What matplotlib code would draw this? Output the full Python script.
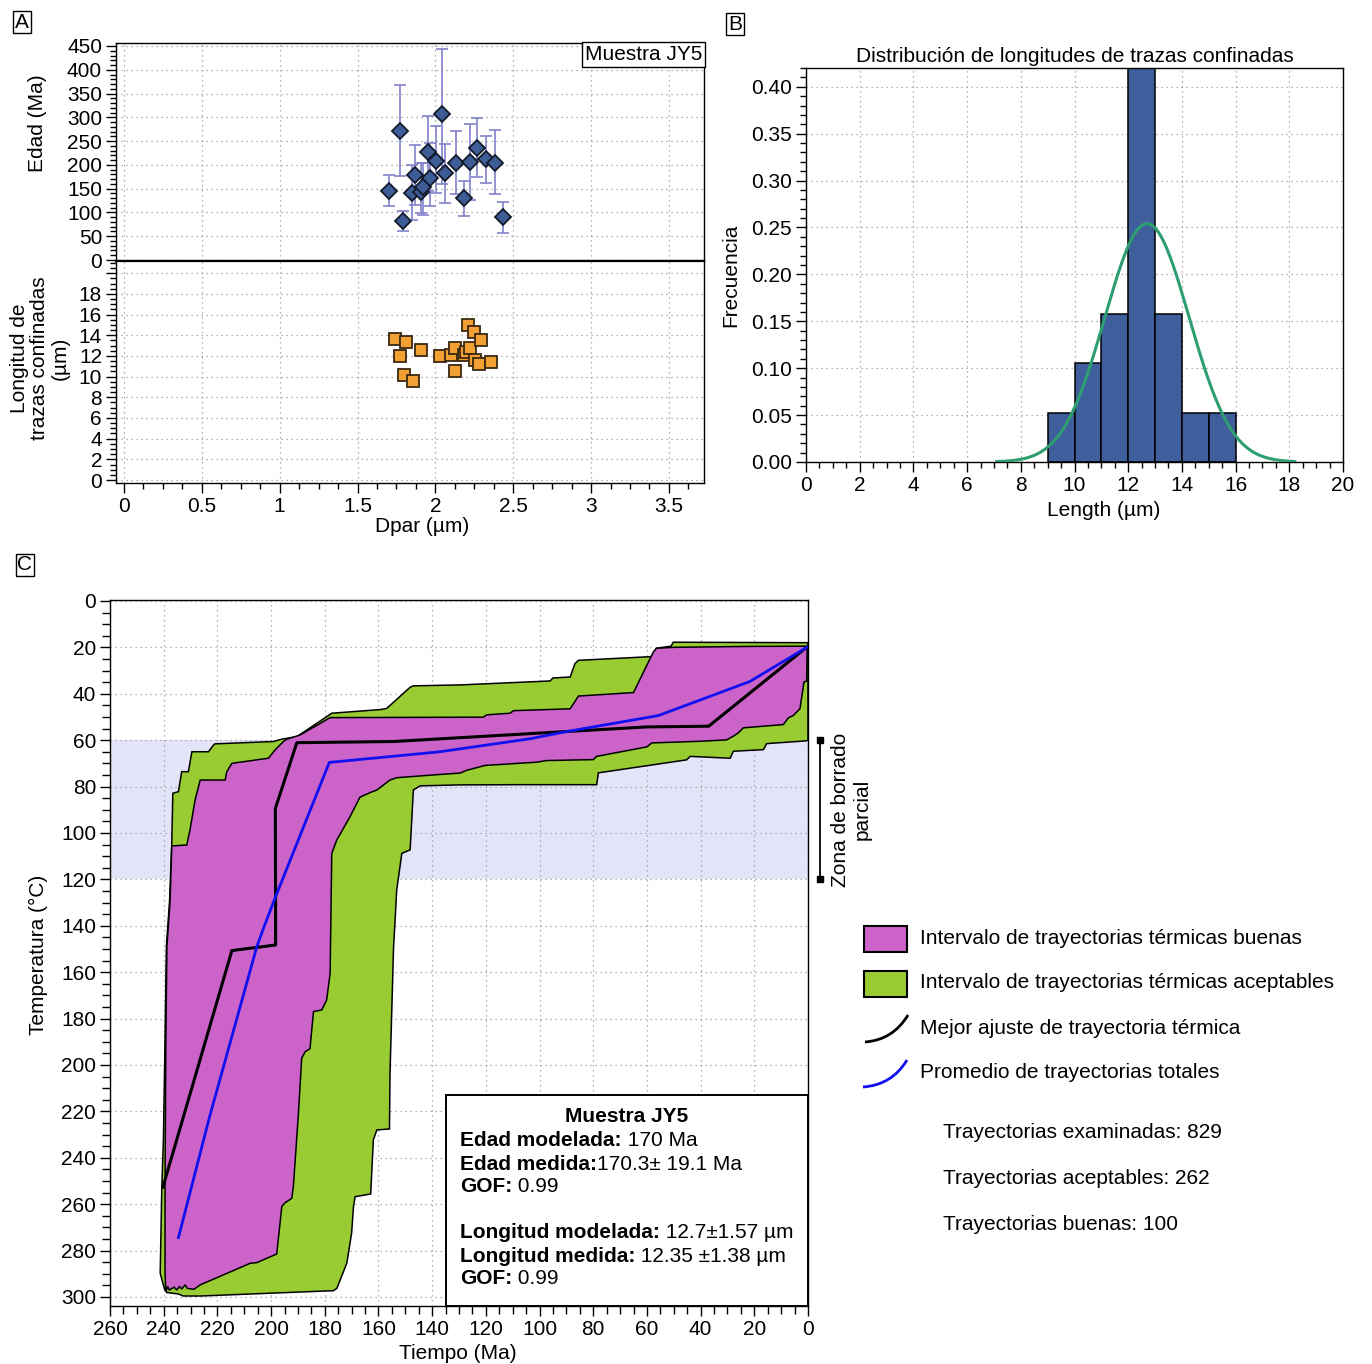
import numpy as np
import matplotlib
matplotlib.use("Agg")
import matplotlib.pyplot as plt
from matplotlib.ticker import MultipleLocator, FuncFormatter
from matplotlib.patches import Rectangle, PathPatch
from matplotlib.path import Path
from matplotlib.transforms import blended_transform_factory

plt.rcParams["font.family"] = ["Liberation Sans", "DejaVu Sans"]
plt.rcParams["font.size"] = 15
plt.rcParams["axes.linewidth"] = 1.0

W, H = 1372, 1364

# ---------------- Panel A: single-grain ages and track lengths vs Dpar
grain_dpar = [1.70, 1.77, 1.79, 1.85, 1.87, 1.91, 1.92, 1.955, 1.965, 2.005, 2.04,
              2.06, 2.13, 2.185, 2.225, 2.27, 2.325, 2.385, 2.435]
grain_age = [145, 271, 81, 141, 178, 143, 153, 227, 173, 209, 306, 182, 204, 130,
             207, 235, 212, 203, 90]
grain_age_low = [114, 176, 61, 84, 116, 98, 95, 145, 113, 140, 160, 119, 138, 93,
                 127, 174, 161, 139, 57]
grain_age_high = [179, 369, 103, 199, 241, 203, 205, 303, 246, 281, 443, 244, 272,
                  166, 286, 298, 261, 273, 121]

track_dpar = [1.74, 1.775, 1.81, 1.80, 1.855, 1.91, 2.03, 2.10, 2.125, 2.125, 2.185,
              2.195, 2.21, 2.225, 2.245, 2.255, 2.28, 2.295, 2.36]
track_length = [13.6, 12.0, 13.4, 10.2, 9.6, 12.6, 12.0, 12.1, 12.8, 10.5, 12.1,
                12.4, 15.0, 12.8, 14.3, 11.6, 11.2, 13.5, 11.4]

# ---------------- Panel B: confined track length distribution
bin_left = [9, 10, 11, 12, 13, 14, 15]
bin_counts = [1, 2, 3, 8, 3, 1, 1]
model_mean, model_sd = 12.7, 1.57
model_range = (7.1, 18.2)

# ---------------- Panel C: thermal history envelopes (time Ma, temperature C)
acc_time = [0.0, 50.2, 51.0, 56.4, 58.3, 85.5, 86.8, 88.6, 95.0, 96.1, 129.6, 147.0,
            148.2, 156.9, 159.0, 177.4, 179.3, 190.4, 196.1, 199.1, 220.9, 221.5,
            223.3, 229.5, 230.8, 233.3, 234.5, 236.6, 237.0, 237.8, 239.0, 239.5,
            240.1, 240.7, 241.3, 239.7, 238.8, 234.6, 232.7, 226.4, 176.8, 175.5,
            171.8, 170.0, 169.3, 168.7, 162.9, 161.9, 160.6, 155.9, 155.7, 155.0,
            154.4, 153.8, 153.2, 151.3, 148.2, 147.0, 144.5, 129.6, 108.5, 78.7,
            78.1, 45.2, 43.9, 29.0, 27.8, 16.6, 15.4, 0.5, 0.0]
acc_temp = [18.0, 17.8, 19.5, 20.4, 24.0, 25.6, 27.0, 32.8, 33.2, 34.5, 36.2, 36.6,
            37.2, 46.3, 46.8, 48.4, 49.9, 58.5, 59.6, 60.6, 61.6, 62.2,
            65.0, 65.0, 73.6, 73.6, 82.2, 82.9, 105.2, 129.0, 149.0, 189.0,
            232.0, 252.5, 289.8, 296.6, 298.1, 298.7, 299.6, 299.6, 297.3, 296.3,
            285.5, 272.5, 261.0, 256.8, 255.6, 232.3, 228.0, 227.6, 203.6, 175.0,
            150.0, 137.5, 124.6, 108.8, 107.3, 81.5, 79.7, 79.3, 79.2, 79.2,
            74.1, 68.5, 67.0, 67.8, 64.8, 64.1, 61.5, 60.3, 60.0]

good_time = [0.3, 21.6, 50.0, 56.4, 57.6, 65.0, 85.5, 88.6, 109.7, 111.0, 119.7,
             120.9, 178.0, 189.2, 194.2, 195.4, 198.5, 201.0, 214.6, 216.5, 217.1,
             226.4, 228.3, 230.2, 231.4, 237.0, 237.6, 238.8, 239.2, 239.5, 239.5,
             239.2, 238.5, 237.9, 236.1, 235.1, 234.1, 233.3, 232.0, 231.2, 228.7,
             226.4, 207.8, 205.3, 197.9, 196.0, 194.9, 192.3, 191.7, 189.8, 188.6,
             187.3, 185.5, 184.2, 181.1, 179.3, 178.0, 177.4, 175.5, 170.6, 166.9,
             163.1, 160.6, 155.7, 153.2, 138.3, 129.6, 127.1, 120.3, 101.0, 97.3,
             80.0, 78.7, 60.0, 58.2, 40.2, 30.3, 27.8, 26.0, 24.1, 9.2, 7.3, 5.5,
             3.0, 1.5, 0.5]
good_temp = [19.5, 19.6, 20.0, 20.4, 22.0, 39.5, 41.0, 46.5, 47.3, 48.4, 49.1,
             50.1, 50.3, 57.8, 59.6, 60.6, 64.2, 67.8, 70.0, 73.6, 77.2,
             77.2, 85.8, 98.7, 105.2, 105.6, 129.0, 149.0, 189.0, 252.5, 289.8,
             297.7, 295.5, 297.0, 295.8, 297.0, 295.5, 296.6, 294.8, 296.3, 296.7,
             294.8, 285.5, 285.2, 281.5, 261.0, 259.5, 257.5, 252.5, 220.8, 197.1,
             194.3, 193.0, 177.0, 176.3, 172.0, 160.5, 108.8, 103.0, 93.0, 84.6,
             82.6, 81.5, 77.2, 76.2, 74.9, 74.2, 73.0, 70.9, 69.5, 68.8,
             68.4, 67.0, 62.9, 61.2, 60.5, 59.9, 58.3, 56.9, 54.7, 53.3, 50.4, 49.4,
             46.5, 35.0, 34.5]

best_time = [240.3, 214.6, 198.3, 198.4, 190.4, 154.4, 88.6, 60.0, 37.0, 0.0]
best_temp = [252.7, 150.7, 148.3, 89.4, 61.1, 60.6, 56.2, 54.3, 54.0, 19.5]

mean_time = [234.5, 222.9, 205.3, 202.8, 198.5, 178.3, 137.0, 103.5, 89.9, 55.7, 21.6, 0.0]
mean_temp = [274.4, 222.3, 149.0, 141.0, 128.0, 69.6, 65.0, 59.4, 56.3, 49.4, 34.7, 19.7]

paz_range = (60, 120)

# ---------------- styling
C_GOOD = "#CC63C9"
C_ACC = "#99CC33"
C_PAZ = "#E4E4F8"
GRID = dict(color="#9a9a9a", linestyle=(0, (1, 3)), linewidth=0.9)

fig = plt.figure(figsize=(W / 100, H / 100), dpi=100)


def px_axes(left, top, right, bottom, **kw):
    return fig.add_axes([left / W, 1 - bottom / H, (right - left) / W, (bottom - top) / H], **kw)


def style_ticks(ax, major=7, minor=4):
    ax.tick_params(which="both", direction="out", width=1, labelsize=15, pad=3)
    ax.tick_params(which="major", length=major)
    ax.tick_params(which="minor", length=minor)


fmt_g = FuncFormatter(lambda v, p: f"{v:g}")

# ---------------- Panel A
axA1 = px_axes(116, 43, 704, 261)
axA2 = px_axes(116, 261, 704, 483, sharex=axA1)
for ax in (axA1, axA2):
    ax.set_xlim(-0.051, 3.725)
    ax.xaxis.set_major_locator(MultipleLocator(0.5))
    ax.xaxis.set_minor_locator(MultipleLocator(0.125))
    ax.xaxis.set_major_formatter(fmt_g)
    ax.grid(True, which="major", **GRID)
    ax.set_axisbelow(True)
    style_ticks(ax)
axA1.tick_params(axis="x", which="both", bottom=False, labelbottom=False)
axA1.set_ylim(-2.1, 456.3)
axA1.yaxis.set_major_locator(MultipleLocator(50))
axA1.yaxis.set_minor_locator(MultipleLocator(10))
axA2.set_ylim(-0.29, 21.19)
axA2.yaxis.set_major_locator(MultipleLocator(2))
axA2.yaxis.set_minor_locator(MultipleLocator(0.5))
axA2.yaxis.set_major_formatter(FuncFormatter(lambda v, p: "" if v > 19 else f"{v:g}"))
axA1.spines["bottom"].set_linewidth(1.6)
axA2.spines["top"].set_linewidth(1.6)

age = np.array(grain_age)
yerr = [age - np.array(grain_age_low), np.array(grain_age_high) - age]
axA1.errorbar(grain_dpar, grain_age, yerr=yerr, fmt="none", ecolor="#8282CC",
              elinewidth=1.2, capsize=4, capthick=1.2, zorder=2)
axA1.plot(grain_dpar, grain_age, linestyle="none", marker="D", markersize=8.5,
          markerfacecolor="#3E5C96", markeredgecolor="#111a2a", markeredgewidth=1.3, zorder=3)
axA2.plot(track_dpar, track_length, linestyle="none", marker="s", markersize=8,
          markerfacecolor="#F2A033", markeredgecolor="#3a2810", markeredgewidth=1.3, zorder=3)

axA1.text(0.997, 0.992, "Muestra JY5", transform=axA1.transAxes, ha="right", va="top",
          fontsize=15, bbox=dict(boxstyle="square,pad=0.15", fc="white", ec="black", lw=1))
axA1.set_ylabel("Edad (Ma)", fontsize=15, va="center", ha="center")
axA1.yaxis.set_label_coords(-0.134, 0.633)
axA2.set_ylabel("Longitud de\ntrazas confinadas\n(µm)", fontsize=15, va="center",
                ha="center", multialignment="center", linespacing=1.1)
axA2.yaxis.set_label_coords(-0.13, 0.56)
axA2.set_xlabel("Dpar (µm)", fontsize=15)
axA2.xaxis.set_label_coords(0.52, -0.155)

# ---------------- Panel B
axB = px_axes(806, 68, 1343, 462)
freq = np.array(bin_counts) / np.sum(bin_counts)
axB.bar(bin_left, freq, width=1, align="edge", color="#3F5E9C", edgecolor="black",
        linewidth=1.1, zorder=2)
xs = np.linspace(model_range[0], model_range[1], 300)
pdf = np.exp(-(xs - model_mean) ** 2 / (2 * model_sd ** 2)) / (model_sd * np.sqrt(2 * np.pi))
axB.plot(xs, pdf, color="#2E9E70", lw=2.2, zorder=3)
axB.set_xlim(0, 20)
axB.set_ylim(0, 0.42)
axB.xaxis.set_major_locator(MultipleLocator(2))
axB.xaxis.set_minor_locator(MultipleLocator(0.5))
axB.yaxis.set_major_locator(MultipleLocator(0.05))
axB.yaxis.set_minor_locator(MultipleLocator(0.01))
axB.yaxis.set_major_formatter(FuncFormatter(lambda v, p: f"{v:.2f}"))
axB.grid(True, which="major", **GRID)
axB.set_axisbelow(True)
style_ticks(axB)
axB.set_title("Distribución de longitudes de trazas confinadas", fontsize=15, pad=4)
axB.set_ylabel("Frecuencia", fontsize=15, va="center", ha="center")
axB.yaxis.set_label_coords(-0.14, 0.475)
axB.set_xlabel("Length (µm)", fontsize=15)
axB.xaxis.set_label_coords(0.555, -0.1)

# ---------------- Panel C
axC = px_axes(110, 600, 808, 1306)
axC.set_xlim(260, 0)
axC.set_ylim(303.9, -0.4)
axC.axhspan(paz_range[0], paz_range[1], color=C_PAZ, zorder=0.3, lw=0)
axC.fill(acc_time, acc_temp, facecolor=C_ACC, edgecolor="black", lw=1.1, zorder=2)
axC.fill(good_time, good_temp, facecolor=C_GOOD, edgecolor="black", lw=1.1, zorder=3)
axC.plot(best_time, best_temp, color="black", lw=2.2, zorder=4)
axC.plot(mean_time, mean_temp, color="#1010F0", lw=2.0, zorder=5)
axC.xaxis.set_major_locator(MultipleLocator(20))
axC.xaxis.set_minor_locator(MultipleLocator(5))
axC.yaxis.set_major_locator(MultipleLocator(20))
axC.yaxis.set_minor_locator(MultipleLocator(5))
axC.grid(True, which="major", **GRID)
axC.set_axisbelow(True)
style_ticks(axC, major=7, minor=6)
axC.set_ylabel("Temperatura (°C)", fontsize=15, va="center", ha="center")
axC.yaxis.set_label_coords(-0.103, 0.497)
axC.set_xlabel("Tiempo (Ma)", fontsize=15)
axC.xaxis.set_label_coords(0.4986, -0.054)

trans = blended_transform_factory(axC.transAxes, axC.transData)
axC.plot([1.017, 1.017], list(paz_range), transform=trans, color="black", lw=1.3,
         clip_on=False, marker="s", markersize=5, zorder=6)
axC.text(1.062, sum(paz_range) / 2, "Zona de borrado\nparcial", transform=trans,
         rotation=90, ha="center", va="center", multialignment="center", fontsize=15)

# ---------------- overlay: panel tags, summary box, legend
ov = fig.add_axes([0, 0, 1, 1], zorder=10)
ov.set_xlim(0, W)
ov.set_ylim(H, 0)
ov.axis("off")
ov.patch.set_alpha(0)

tag_box = dict(boxstyle="square,pad=0.08", fc="white", ec="black", lw=1)
for tag, (tx, ty) in {"A": (22, 22), "B": (735, 24), "C": (25, 565)}.items():
    ov.text(tx, ty, tag, ha="center", va="center", fontsize=15, bbox=tag_box)

ov.add_patch(Rectangle((446, 1095), 808 - 446, 1306 - 1095, fc="white", ec="black", lw=1.4))
ov.text(627, 1117, "Muestra JY5", ha="center", va="center", fontsize=15, fontweight="bold")
summary = [
    ("Edad modelada:", " 170 Ma", 1140),
    ("Edad medida:", "170.3± 19.1 Ma", 1164),
    ("GOF:", " 0.99", 1187),
    ("Longitud modelada:", " 12.7±1.57 µm", 1233),
    ("Longitud medida:", " 12.35 ±1.38 µm", 1256),
    ("GOF:", " 0.99", 1279),
]
for bold, rest, yy in summary:
    tb = ov.text(460, yy, bold, ha="left", va="center", fontsize=15, fontweight="bold")
    ov.annotate(rest, xy=(1, 0.5), xycoords=tb, ha="left", va="center", fontsize=15)

ov.add_patch(Rectangle((864, 926), 43, 26, fc=C_GOOD, ec="black", lw=1.5))
ov.add_patch(Rectangle((864, 971), 43, 26, fc=C_ACC, ec="black", lw=1.5))
curve_codes = [Path.MOVETO, Path.CURVE3, Path.CURVE3]
ov.add_patch(PathPatch(Path([(865, 1042), (893, 1040), (908, 1015)], curve_codes),
                       fc="none", ec="black", lw=2.0))
ov.add_patch(PathPatch(Path([(863, 1087), (892, 1085), (907, 1060)], curve_codes),
                       fc="none", ec="#1010F0", lw=2.0))
legend_rows = [
    ("Intervalo de trayectorias térmicas buenas", 938),
    ("Intervalo de trayectorias térmicas aceptables", 983),
    ("Mejor ajuste de trayectoria térmica", 1028),
    ("Promedio de trayectorias totales", 1073),
]
for label, yy in legend_rows:
    ov.text(920, yy, label, ha="left", va="center", fontsize=15)

stats_rows = [
    ("Trayectorias examinadas: 829", 1133),
    ("Trayectorias aceptables: 262", 1179),
    ("Trayectorias buenas: 100", 1225),
]
for label, yy in stats_rows:
    ov.text(943, yy, label, ha="left", va="center", fontsize=15)

fig.savefig("out.png", dpi=100)
